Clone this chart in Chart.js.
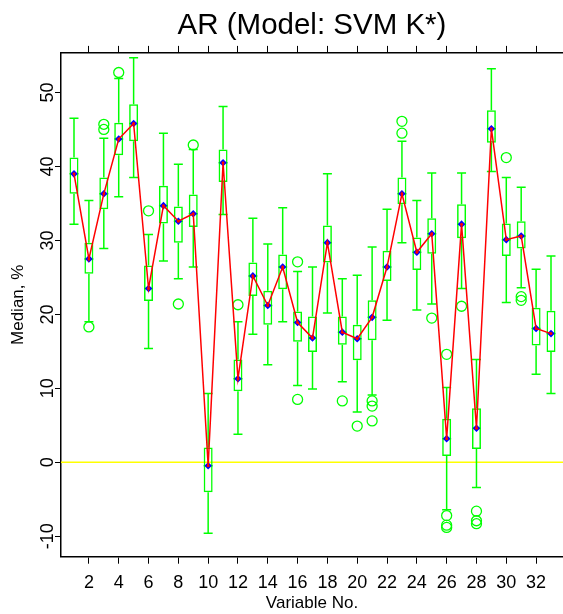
<!DOCTYPE html>
<html lang="en">
<head>
    <meta charset="UTF-8">
    <title>AR (Model: SVM K*)</title>
    <script src="https://cdn.jsdelivr.net/npm/chart.js"></script>
    <style>
        body {
            margin: 0;
            background: #fff;
        }
        #wrap {
            width: 563px;
            height: 614px;
            overflow: hidden;
        }
    </style>
</head>
<body>

<div id="wrap">
    <canvas id="boxChart" width="563" height="614"></canvas>
</div>

<script>
    // one entry per variable (1..33)
    const variables = [1, 2, 3, 4, 5, 6, 7, 8, 9, 10, 11, 12, 13, 14, 15, 16, 17,
        18, 19, 20, 21, 22, 23, 24, 25, 26, 27, 28, 29, 30, 31, 32, 33];
    const whiskerLow = [32.2, 19.0, 28.9, 35.9, 38.5, 15.4, 27.2, 24.8, 26.4, -9.6, 33.5,
        3.8, 17.3, 13.2, 19.0, 10.4, 9.9, 20.2, 10.9, 6.8, 9.1, 19.2, 29.7, 20.6, 21.4,
        -6.4, 23.5, -3.4, 39.3, 21.6, 23.6, 11.9, 9.3];
    const q1 = [36.3, 25.5, 34.2, 41.5, 43.4, 21.8, 32.3, 29.7, 31.8, -4.05, 37.9,
        9.6, 22.5, 18.6, 23.4, 16.3, 14.9, 27.0, 15.9, 13.8, 16.5, 24.5, 34.9, 26.0, 28.2,
        0.85, 30.3, 1.8, 43.2, 27.9, 28.9, 15.8, 14.9];
    const median = [39.0, 27.5, 36.3, 43.7, 45.8, 23.5, 34.7, 32.6, 33.6, -0.46, 40.5,
        11.3, 25.2, 21.2, 26.4, 18.9, 16.8, 29.7, 17.6, 16.7, 19.6, 26.4, 36.3, 28.4, 30.9,
        3.2, 32.2, 4.6, 45.1, 30.1, 30.6, 18.1, 17.4];
    const q3 = [41.2, 29.7, 38.5, 45.9, 48.4, 26.6, 37.4, 34.6, 36.2, 2.0, 42.3,
        13.9, 27.0, 23.2, 28.1, 20.4, 19.7, 32.0, 19.7, 18.6, 21.9, 28.6, 38.5, 30.4, 33.0,
        5.9, 34.9, 7.3, 47.6, 32.3, 32.6, 20.9, 20.5];
    const whiskerHigh = [46.5, 35.4, 43.8, 51.9, 54.7, 30.8, 44.5, 40.3, 42.3, 9.3, 48.1,
        19.0, 33.0, 29.5, 34.4, 25.8, 26.4, 39.0, 24.8, 25.3, 29.1, 34.2, 43.4, 35.4, 39.1,
        10.1, 39.1, 13.9, 53.2, 38.5, 37.2, 26.1, 27.9];

    // outliers: variable number and value
    const outlierVar = [2, 3, 3, 4, 6, 8, 9, 12, 16, 16, 19, 20, 21, 21, 21, 23, 23, 25,
        26, 26, 26, 26, 27, 28, 28, 28, 30, 31, 31];
    const outlierValue = [18.3, 45.7, 45.0, 52.7, 34.0, 21.4, 42.9, 21.3, 27.1, 8.5, 8.3, 4.9,
        8.3, 7.6, 5.6, 46.1, 44.5, 19.5, 14.6, -7.2, -8.5, -8.8, 21.1, -6.6, -7.9, -8.3,
        41.2, 22.4, 21.9];

    const xTicks = [2, 4, 6, 8, 10, 12, 14, 16, 18, 20, 22, 24, 26, 28, 30, 32];
    const yTicks = [-10, 0, 10, 20, 30, 40, 50];

    const xMin = 0.128, xMax = 33.805;
    const yMin = -12.76, yMax = 55.35;

    const green = '#00ff00';
    const fontFamily = '"Liberation Sans", Arial, sans-serif';
    Chart.defaults.font.family = fontFamily;
    Chart.defaults.color = '#000';

    const points = arr => arr.map((v, i) => ({x: variables[i], y: v}));

    var ctx = document.getElementById('boxChart').getContext('2d');
    new Chart(ctx, {
        type: 'bar',
        data: {
            datasets: [
                {
                    // red line through the medians
                    type: 'line',
                    data: points(median),
                    borderColor: '#ff0000',
                    borderWidth: 1.5,
                    pointRadius: 1.5,
                    pointBackgroundColor: '#ff0000',
                    pointBorderWidth: 0,
                    order: 0
                },
                {
                    type: 'scatter',
                    data: points(median),
                    pointStyle: 'rectRot',
                    pointRadius: 3.8,
                    backgroundColor: '#0000ff',
                    borderColor: '#0000ff',
                    borderWidth: 0,
                    order: 1
                },
                {
                    // median line inside the box
                    type: 'scatter',
                    data: points(median),
                    pointStyle: 'line',
                    pointRadius: 4.5,
                    borderColor: green,
                    borderWidth: 1.5,
                    order: 2
                },
                {
                    type: 'scatter',
                    data: outlierVar.map((v, i) => ({x: v, y: outlierValue[i]})),
                    pointStyle: 'circle',
                    pointRadius: 5,
                    backgroundColor: 'rgba(0,0,0,0)',
                    borderColor: green,
                    borderWidth: 1.3,
                    order: 3
                },
                {
                    // whisker caps
                    type: 'scatter',
                    data: points(whiskerLow).concat(points(whiskerHigh)),
                    pointStyle: 'line',
                    pointRadius: 4.5,
                    borderColor: green,
                    borderWidth: 1.5,
                    order: 4
                },
                {
                    // boxes (q1..q3)
                    type: 'bar',
                    data: variables.map((v, i) => ({x: v, y: [q1[i], q3[i]]})),
                    grouped: false,
                    barThickness: 9,
                    inflateAmount: 0,
                    backgroundColor: 'rgba(0,0,0,0)',
                    borderColor: green,
                    borderWidth: 1.5,
                    borderSkipped: false,
                    order: 5
                },
                {
                    type: 'bar',
                    data: variables.map((v, i) => ({x: v, y: [whiskerLow[i], q1[i]]})),
                    grouped: false,
                    barThickness: 1.5,
                    inflateAmount: 0,
                    backgroundColor: green,
                    borderWidth: 0,
                    order: 6
                },
                {
                    type: 'bar',
                    data: variables.map((v, i) => ({x: v, y: [q3[i], whiskerHigh[i]]})),
                    grouped: false,
                    barThickness: 1.5,
                    inflateAmount: 0,
                    backgroundColor: green,
                    borderWidth: 0,
                    order: 7
                },
                {
                    // zero reference line
                    type: 'line',
                    data: [{x: xMin, y: 0}, {x: xMax, y: 0}],
                    borderColor: '#ffff00',
                    borderWidth: 1.5,
                    pointRadius: 0,
                    order: 9
                }
            ]
        },
        options: {
            responsive: false,
            animation: false,
            devicePixelRatio: 1,
            layout: {padding: 0, autoPadding: false},
            plugins: {
                legend: {display: false},
                tooltip: {enabled: false},
                title: {
                    display: true,
                    text: 'AR (Model: SVM K*)',
                    fullSize: false,
                    color: '#000',
                    font: {size: 29.5, weight: 'normal'},
                    padding: {top: 8, bottom: 0}
                }
            },
            scales: {
                x: {
                    type: 'linear',
                    position: 'bottom',
                    offset: false,
                    min: xMin,
                    max: xMax,
                    afterBuildTicks: s => { s.ticks = xTicks.map(v => ({value: v})); },
                    afterFit: s => { s.height = 57.3; },
                    ticks: {
                        autoSkip: false,
                        maxRotation: 0,
                        padding: 9,
                        font: {size: 18},
                        color: '#000'
                    },
                    grid: {drawOnChartArea: false, offset: false, tickLength: 7, color: '#000'},
                    border: {color: '#000', width: 1.5},
                    title: {
                        display: true,
                        text: 'Variable No.',
                        font: {size: 17},
                        color: '#000',
                        padding: {top: 0, bottom: 0}
                    }
                },
                x2: {
                    type: 'linear',
                    position: 'top',
                    offset: false,
                    min: xMin,
                    max: xMax,
                    afterBuildTicks: s => { s.ticks = xTicks.map(v => ({value: v})); },
                    afterFit: s => { s.height = 9.5; },
                    ticks: {display: false},
                    grid: {drawOnChartArea: false, offset: false, tickLength: 7, color: '#000'},
                    border: {color: '#000', width: 1.5}
                },
                y: {
                    type: 'linear',
                    min: yMin,
                    max: yMax,
                    afterBuildTicks: s => { s.ticks = yTicks.map(v => ({value: v})); },
                    afterFit: s => { s.width = 61; },
                    ticks: {
                        minRotation: 90,
                        maxRotation: 90,
                        crossAlign: 'center',
                        padding: -6,
                        font: {size: 18},
                        color: '#000'
                    },
                    grid: {drawOnChartArea: false, tickLength: 6, color: '#000'},
                    border: {color: '#000', width: 1.5},
                    title: {
                        display: true,
                        text: 'Median, %',
                        font: {size: 17},
                        color: '#000',
                        padding: {top: 8, bottom: 0}
                    }
                }
            }
        }
    });
</script>

</body>
</html>
